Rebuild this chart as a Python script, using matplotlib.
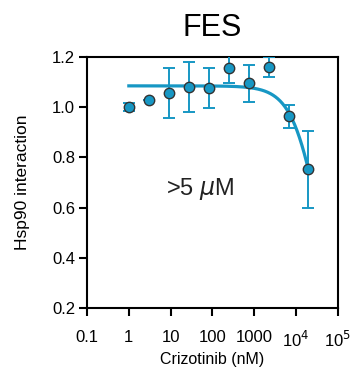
import numpy as np
import matplotlib.pyplot as plt

plt.rcParams['font.family'] = ['Liberation Sans', 'DejaVu Sans']

# crizotinib dose (nM) and normalised Hsp90 interaction
conc = [1, 3, 9, 27, 81, 243, 729, 2187, 6561, 19683]
resp = [1.00, 1.03, 1.055, 1.08, 1.075, 1.155, 1.095, 1.16, 0.963, 0.752]
err = [0.015, 0.0, 0.10, 0.10, 0.08, 0.06, 0.073, 0.04, 0.045, 0.153]

# dose-response fit parameters
top, bottom, ic50, hill = 1.085, 0.0, 36600, 1.3

col = '#1797c4'

fig = plt.figure(figsize=(3.6, 3.73), dpi=100)
ax = fig.add_axes([87/360, 1 - 308/373, 251/360, 251/373])

xf = np.logspace(0, np.log10(conc[-1]), 300)
yf = bottom + (top - bottom) / (1 + (xf / ic50) ** hill)
ax.plot(xf, yf, color=col, lw=2.3, zorder=2)

ax.errorbar(conc, resp, yerr=err, fmt='none', ecolor=col, elinewidth=1.4,
            capsize=4, capthick=1.4, zorder=3)
ax.plot(conc, resp, 'o', ms=7.5, mfc=col, mec='#333333', mew=1.0, zorder=4)

ax.set_xscale('log')
ax.set_xlim(0.1, 1e5)
ax.set_ylim(0.2, 1.2)
ax.set_xticks([0.1, 1, 10, 100, 1000, 1e4, 1e5])
ax.set_xticklabels(['0.1', '1', '10', '100', '1000', r'10$^4$', r'10$^5$'])
ax.minorticks_off()
ax.set_yticks([0.2, 0.4, 0.6, 0.8, 1.0, 1.2])
ax.set_yticklabels(['0.2', '0.4', '0.6', '0.8', '1.0', '1.2'])

for s in ax.spines.values():
    s.set_linewidth(1.5)
ax.tick_params(width=1.5, length=5.5, labelsize=12)
ax.tick_params(axis='x', pad=10)
ax.tick_params(axis='y', pad=3)

ax.set_xlabel('Crizotinib (nM)', fontsize=11.5, labelpad=2)
ax.set_ylabel('Hsp90 interaction', fontsize=12.5, labelpad=16)
ax.set_title('FES', fontsize=22, pad=15)

ax.text(50, 0.675, '>5 $\\mu$M', fontsize=17, ha='center', va='center',
        color='#222222')

fig.savefig('out.png', dpi=100)
